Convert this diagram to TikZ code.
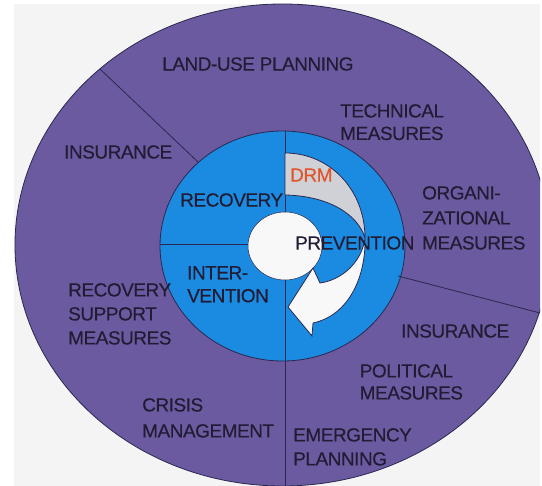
\documentclass[tikz,border=0pt]{standalone}
\usepackage{fontspec}
\setmainfont{Liberation Sans}
\newfontfamily\ringfont{Liberation Sans}[LetterSpace=-2.5, FakeBold=0.3]
\definecolor{ringpurple}{HTML}{6B5AA0}
\definecolor{coreblue}{HTML}{1A8BE0}
\definecolor{backgray}{HTML}{F4F4F4}
\definecolor{edgenavy}{HTML}{2A2850}
\definecolor{labelink}{HTML}{211C34}
\definecolor{drmred}{HTML}{E0552A}
\definecolor{twistgray}{HTML}{D0D0D7}
\definecolor{hubwhite}{HTML}{F8F8F8}

\begin{document}
\begin{tikzpicture}[x=1pt,y=-1pt,
  divider/.style={draw=edgenavy, line width=0.8pt},
  outline/.style={draw=edgenavy, line width=0.8pt},
  ringtext/.style={text=labelink, inner sep=0pt, align=left},
  fs/.style={font=\ringfont\fontsize{19}{#1}\selectfont},
  fs/.default=22]

\useasboundingbox (0,0) rectangle (542,486);
\fill[white] (0,0) rectangle (542,486);
\fill[backgray] (14,4) rectangle (540,486);

% outer ring of measures
\begin{scope}
  \clip (14,4) rectangle (540,486);
  \path[fill=ringpurple, outline] (282.5,245) ellipse [x radius=267.5, y radius=241];
\end{scope}

% inner ring of phases
\path[fill=coreblue, outline] (282.5,246) ellipse [x radius=122.5, y radius=115];

% divider end points
\coordinate (tlOut) at (100,69);
\coordinate (tlIn)  at (198,162);
\coordinate (rIn)   at (398,276);
\coordinate (rOut)  at (540,313);
\coordinate (vTop)  at (285,131);
\coordinate (vHubT) at (285,212);
\coordinate (vHubB) at (285,280);
\coordinate (vBot)  at (285,486);
\coordinate (hL)    at (160,244);
\coordinate (hHub)  at (248,244);

\draw[divider] (tlOut) -- (tlIn);
\draw[divider] (rIn) -- (rOut);
\draw[divider] (vTop) -- (vHubT);
\draw[divider] (vHubB) -- (vBot);
\draw[divider] (hL) -- (hHub);

% hub
\path[fill=hubwhite, outline, line width=0.5pt] (285,246) ellipse [x radius=37, y radius=34];

% twisted cycle arrow: shaded back face
\path[fill=twistgray, outline] (285,153)
  .. controls (330,153) and (365,190) .. (365,238)
  .. controls (358,215) and (330,196) .. (285,195) -- cycle;

% twisted cycle arrow: front face with head
\path[fill=hubwhite, outline] (365,238)
  .. controls (366,275) and (350,315) .. (313,323)
  -- (312,336) -- (288,307) -- (313,268) -- (320,283)
  .. controls (342,280) and (362,262) .. (365,238) -- cycle;

% outer ring labels
\node[ringtext, fs, anchor=west] (landuse) at (162,64) {LAND-USE PLANNING};
\node[ringtext, fs=22.5, anchor=north west] (technical) at (340,104) {TECHNICAL\\MEASURES};
\node[ringtext, fs, anchor=west] (insTL) at (64,152) {INSURANCE};
\node[ringtext, fs=25, anchor=north west] (organi) at (422,186) {ORGANI-\\ZATIONAL\\MEASURES};
\node[ringtext, fs, anchor=west] (insR) at (401,331) {INSURANCE};
\node[ringtext, fs=22, anchor=north west] (political) at (359.5,364) {POLITICAL\\MEASURES};
\node[ringtext, fs=24, anchor=north west] (emergency) at (293,428) {EMERGENCY\\PLANNING};
\node[ringtext, fs=26, anchor=north west] (crisis) at (142,398) {CRISIS\\MANAGEMENT};
\node[ringtext, fs=24, anchor=north west] (support) at (68,283) {RECOVERY\\SUPPORT\\MEASURES};

% inner ring labels
\node[ringtext, fs, anchor=west] (recovery) at (180,200) {RECOVERY};
\node[ringtext, fs=23, anchor=north west] (intervention) at (187,266) {INTER-\\VENTION};
\node[ringtext, fs, anchor=west] (prevention) at (295,243) {PREVENTION};
\node[ringtext, fs, anchor=west, text=drmred] (drm) at (290,175) {DRM};

\end{tikzpicture}
\end{document}
